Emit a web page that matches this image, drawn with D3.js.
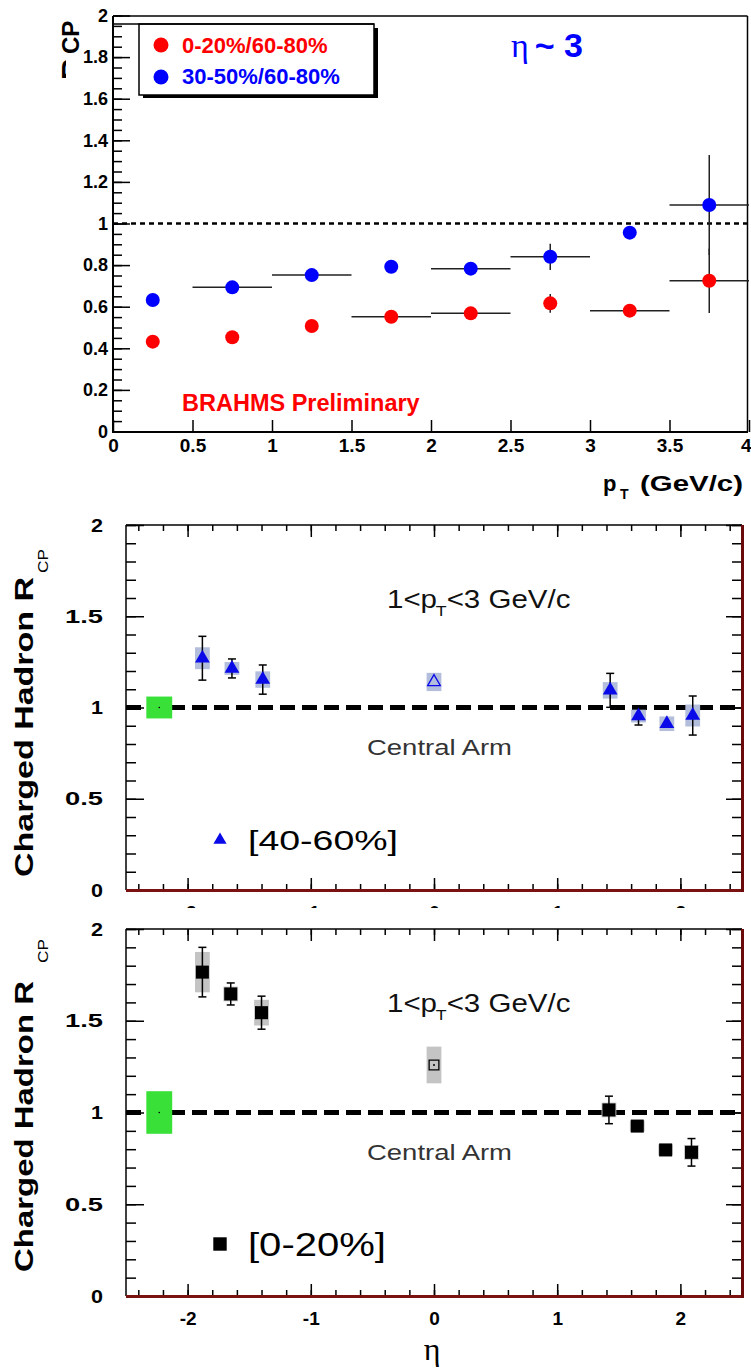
<!DOCTYPE html>
<html>
<head>
<meta charset="utf-8">
<script src="https://cdn.jsdelivr.net/npm/d3@7"></script>
<style>
  body { margin: 0; background: #fff; }
  svg { display: block; }
</style>
</head>
<body>
<svg id="chart" width="751" height="1368"></svg>
<script>
// ---- top panel: R_CP vs pT at eta ~ 3 ----
var ptCenters = [0.25, 0.75, 1.25, 1.75, 2.25, 2.75, 3.25, 3.75];
var rcpCentral = [0.432, 0.453, 0.507, 0.552, 0.568, 0.616, 0.581, 0.725];
var rcpCentralErr = [0, 0, 0, 0, 0, 0.045, 0, 0.155];
var rcpCentralBinErr = [0, 0, 0, 0.25, 0.25, 0, 0.25, 0.25];
var rcpSemi = [0.632, 0.693, 0.752, 0.792, 0.783, 0.840, 0.956, 1.089];
var rcpSemiErr = [0, 0, 0, 0, 0, 0.063, 0, 0.24];
var rcpSemiBinErr = [0, 0.25, 0.25, 0, 0.25, 0.25, 0, 0.25];
var legendTop = ['0-20%/60-80%', '30-50%/60-80%'];
var ptTicks = [0, 0.5, 1, 1.5, 2, 2.5, 3, 3.5, 4];

// ---- middle panel: [40-60%] vs eta ----
var eta40 = [-1.88, -1.64, -1.39, 1.43, 1.66, 1.89, 2.10];
var rcp40 = [1.27, 1.214, 1.153, 1.094, 0.953, 0.911, 0.956];
var rcp40Stat = [0.12, 0.052, 0.08, 0.093, 0.049, 0.02, 0.107];
var rcp40Sys = [0.06, 0.035, 0.045, 0.045, 0.035, 0.04, 0.06];
var rcp40Mid = [{ eta: 0, v: 1.14, sys: 0.05 }];

// ---- bottom panel: [0-20%] vs eta ----
var eta0 = [-1.88, -1.65, -1.40, 1.42, 1.65, 1.88, 2.09];
var rcp0 = [1.765, 1.646, 1.544, 1.014, 0.926, 0.796, 0.783];
var rcp0Stat = [0.135, 0.06, 0.09, 0.075, 0.03, 0.02, 0.075];
var rcp0Sys = [0.11, 0.04, 0.07, 0.04, 0.03, 0.03, 0.04];
var rcp0Mid = [{ eta: 0, v: 1.259, sys: 0.1 }];

// normalisation uncertainty boxes (green)
var normEta = -2.23, normHalfWidth = 0.105;
var norm40 = 0.06, norm0 = 0.116;

var etaMajor = [-2, -1, 0, 1, 2];
var rcpMajor = [0, 0.5, 1, 1.5, 2];

(function () {
  var sans = '"Liberation Sans", Arial, Helvetica, sans-serif';
  var serif = '"Liberation Serif", "Times New Roman", serif';
  var svg = d3.select('#chart');

  function clean(g) {
    g.select('.domain').remove();
    g.attr('font-family', null).attr('font-size', null);
    g.selectAll('line').attr('stroke', '#000').attr('stroke-width', 1.5);
  }

  function fmt(d) { return d3.format('~g')(+d.toFixed(2)); }

  // ================= TOP PANEL =================
  var xPt = d3.scaleLinear().domain([0, 4]).range([113, 749]);
  var yTop = d3.scaleLinear().domain([0, 2]).range([431.5, 15.5]);
  var topG = svg.append('g');

  topG.append('g').attr('transform', 'translate(113,0)')
    .call(d3.axisLeft(yTop).tickValues(d3.range(0, 2.001, 0.05)).tickSize(-9).tickFormat(''))
    .call(clean);
  topG.append('g').attr('transform', 'translate(113,0)')
    .call(d3.axisLeft(yTop).tickValues(d3.range(0, 2.001, 0.2)).tickSize(-17).tickPadding(5).tickFormat(fmt))
    .call(clean)
    .selectAll('text').attr('font-family', sans).attr('font-weight', 'bold').attr('font-size', 18).attr('fill', '#000');
  var xa = topG.append('g').attr('transform', 'translate(0,432)')
    .call(d3.axisBottom(xPt).tickValues(ptTicks).tickSize(-12).tickPadding(7).tickFormat(fmt))
    .call(clean);
  xa.selectAll('text').attr('font-family', sans).attr('font-weight', 'bold').attr('font-size', 19).attr('fill', '#000');
  // last label sits at the page edge
  xa.selectAll('text').filter(function (d) { return d === 4; }).attr('text-anchor', 'end').attr('dx', 2);

  // frame
  topG.append('line').attr('x1', 113).attr('x2', 747.5).attr('y1', 16).attr('y2', 16).attr('stroke', '#000').attr('stroke-width', 1.5);
  topG.append('line').attr('x1', 747.5).attr('x2', 747.5).attr('y1', 16).attr('y2', 432).attr('stroke', '#000').attr('stroke-width', 1.5);
  topG.append('line').attr('x1', 113).attr('x2', 113).attr('y1', 16).attr('y2', 433).attr('stroke', '#000').attr('stroke-width', 2);
  topG.append('line').attr('x1', 112).attr('x2', 748).attr('y1', 432).attr('y2', 432).attr('stroke', '#000').attr('stroke-width', 2);

  // reference line at 1
  topG.append('line')
    .attr('x1', 113).attr('x2', 747).attr('y1', yTop(1)).attr('y2', yTop(1))
    .attr('stroke', '#000').attr('stroke-width', 2.5).attr('stroke-dasharray', '5,4');

  function ptSeries(vals, err, binErr, color) {
    var g = topG.append('g');
    var pts = ptCenters.map(function (x, i) { return { x: x, v: vals[i], e: err[i], b: binErr[i] }; });
    g.selectAll('line.h').data(pts.filter(function (d) { return d.b > 0; })).enter().append('line')
      .attr('x1', function (d) { return xPt(d.x - d.b); })
      .attr('x2', function (d) { return xPt(d.x + d.b); })
      .attr('y1', function (d) { return yTop(d.v); })
      .attr('y2', function (d) { return yTop(d.v); })
      .attr('stroke', '#222').attr('stroke-width', 1.5);
    g.selectAll('line.v').data(pts.filter(function (d) { return d.e > 0; })).enter().append('line')
      .attr('x1', function (d) { return xPt(d.x); })
      .attr('x2', function (d) { return xPt(d.x); })
      .attr('y1', function (d) { return yTop(d.v - d.e); })
      .attr('y2', function (d) { return yTop(d.v + d.e); })
      .attr('stroke', '#222').attr('stroke-width', 1.5);
    g.selectAll('circle').data(pts).enter().append('circle')
      .attr('cx', function (d) { return xPt(d.x); })
      .attr('cy', function (d) { return yTop(d.v); })
      .attr('r', 7).attr('fill', color);
  }
  ptSeries(rcpCentral, rcpCentralErr, rcpCentralBinErr, '#ff0000');
  ptSeries(rcpSemi, rcpSemiErr, rcpSemiBinErr, '#0000ff');

  // legend box with shadow
  topG.append('rect').attr('x', 143).attr('y', 28).attr('width', 235).attr('height', 70).attr('fill', '#000');
  topG.append('rect').attr('x', 139).attr('y', 24).attr('width', 235).attr('height', 71)
    .attr('fill', '#fff').attr('stroke', '#000').attr('stroke-width', 1.5);
  topG.append('line').attr('x1', 113).attr('x2', 374).attr('y1', 24).attr('y2', 24).attr('stroke', '#000').attr('stroke-width', 1.5);
  var legColors = ['#ff0000', '#0000ff'];
  legendTop.forEach(function (t, i) {
    topG.append('circle').attr('cx', 161).attr('cy', 45 + i * 32).attr('r', 7.5).attr('fill', legColors[i]);
    topG.append('text').attr('x', 182).attr('y', 53 + i * 31).text(t)
      .attr('font-family', sans).attr('font-weight', 'bold').attr('font-size', 22).attr('fill', legColors[i]);
  });

  // eta ~ 3
  var etaLbl = topG.append('text').attr('x', 511).attr('y', 57).attr('fill', '#0000ff');
  etaLbl.append('tspan').attr('font-family', serif).attr('font-size', 34).text('η');
  etaLbl.append('tspan').attr('font-family', sans).attr('font-weight', 'bold').attr('font-size', 34).attr('dx', 6).text('~ 3');

  topG.append('text').attr('x', 182).attr('y', 411).text('BRAHMS Preliminary')
    .attr('font-family', sans).attr('font-weight', 'bold').attr('font-size', 23.5).attr('fill', '#ff0000');

  // clipped y title of the top panel
  svg.append('clipPath').attr('id', 'rclip').append('rect').attr('x', 50).attr('y', 0).attr('width', 16).attr('height', 120);
  topG.append('text').attr('transform', 'translate(79,54) rotate(-90)').text('CP')
    .attr('font-family', sans).attr('font-weight', 'bold').attr('font-size', 24).attr('fill', '#000');
  topG.append('g').attr('clip-path', 'url(#rclip)')
    .append('text').attr('transform', 'translate(82,80) rotate(-90)').text('R')
    .attr('font-family', sans).attr('font-weight', 'bold').attr('font-size', 30).attr('fill', '#000');

  // x title
  topG.append('text').attr('x', 603).attr('y', 491).text('p')
    .attr('font-family', sans).attr('font-weight', 'bold').attr('font-size', 22).attr('fill', '#000');
  topG.append('text').attr('x', 620).attr('y', 499).text('T')
    .attr('font-family', sans).attr('font-weight', 'bold').attr('font-size', 14).attr('fill', '#000');
  topG.append('text').attr('x', 640).attr('y', 491).text('(GeV/c)')
    .attr('textLength', 103).attr('lengthAdjust', 'spacingAndGlyphs')
    .attr('font-family', sans).attr('font-weight', 'bold').attr('font-size', 22).attr('fill', '#000');

  // ================= ETA PANELS =================
  var xEta = d3.scaleLinear().domain([-2.5, 2.5]).range([126, 742]);
  svg.append('clipPath').attr('id', 'midclip').append('rect').attr('x', 0).attr('y', 0).attr('width', 751).attr('height', 908);

  function etaPanel(p) {
    var y = d3.scaleLinear().domain([0, 2]).range([p.y0, p.y2]);
    var g = svg.append('g');
    var xl = xEta.range()[0], xr = xEta.range()[1];

    // left axis
    g.append('g').attr('transform', 'translate(' + xl + ',0)')
      .call(d3.axisLeft(y).tickValues(d3.range(0, 2.001, 0.1)).tickSize(-10).tickFormat('')).call(clean);
    var la = g.append('g').attr('transform', 'translate(' + xl + ',0)')
      .call(d3.axisLeft(y).tickValues(rcpMajor).tickSize(-18).tickPadding(23).tickFormat(fmt)).call(clean);
    la.selectAll('text').attr('font-family', sans).attr('font-weight', 'bold').attr('font-size', 19).attr('fill', '#000')
      .attr('textLength', function (d) { return fmt(d).length > 1 ? 38 : 12; })
      .attr('lengthAdjust', 'spacingAndGlyphs');
    // right axis
    g.append('g').attr('transform', 'translate(' + xr + ',0)')
      .call(d3.axisRight(y).tickValues(d3.range(0, 2.001, 0.1)).tickSize(-10).tickFormat('')).call(clean);
    g.append('g').attr('transform', 'translate(' + xr + ',0)')
      .call(d3.axisRight(y).tickValues(rcpMajor).tickSize(-16).tickFormat('')).call(clean);
    // top axis
    g.append('g').attr('transform', 'translate(0,' + p.y2 + ')')
      .call(d3.axisTop(xEta).tickValues(d3.range(-2.4, 2.41, 0.2)).tickSize(-6).tickFormat('')).call(clean);
    g.append('g').attr('transform', 'translate(0,' + p.y2 + ')')
      .call(d3.axisTop(xEta).tickValues(etaMajor).tickSize(-12).tickFormat('')).call(clean);
    // bottom axis
    g.append('g').attr('transform', 'translate(0,' + p.y0 + ')')
      .call(d3.axisBottom(xEta).tickValues(d3.range(-2.4, 2.41, 0.2)).tickSize(-6).tickFormat('')).call(clean);
    var holder = g.append('g');
    if (p.clipLabels) holder.attr('clip-path', 'url(#midclip)');
    var ba = holder.append('g').attr('transform', 'translate(0,' + p.y0 + ')')
      .call(d3.axisBottom(xEta).tickValues(etaMajor).tickSize(-12).tickPadding(16).tickFormat(function (d) { return String(d); }))
      .call(clean);
    ba.selectAll('text').attr('font-family', sans).attr('font-weight', 'bold').attr('font-size', 19).attr('fill', '#000');

    // frame
    g.append('line').attr('x1', xl).attr('x2', xr).attr('y1', p.y2).attr('y2', p.y2).attr('stroke', '#000').attr('stroke-width', 1.5);
    g.append('line').attr('x1', xl).attr('x2', xl).attr('y1', p.y2).attr('y2', p.y0).attr('stroke', '#000').attr('stroke-width', 1.5);
    g.append('line').attr('x1', xl).attr('x2', xr + 1.5).attr('y1', p.y0 + 0.5).attr('y2', p.y0 + 0.5).attr('stroke', '#7a1212').attr('stroke-width', 3);
    g.append('line').attr('x1', xr + 0.5).attr('x2', xr + 0.5).attr('y1', p.y2).attr('y2', p.y0 + 2).attr('stroke', '#6b0a0a').attr('stroke-width', 3);

    // dashed unity line
    g.append('line').attr('x1', xl).attr('x2', xr).attr('y1', y(1)).attr('y2', y(1))
      .attr('stroke', '#000').attr('stroke-width', 5).attr('stroke-dasharray', '15,7');

    // normalisation box
    g.append('rect')
      .attr('x', xEta(normEta - normHalfWidth)).attr('width', xEta(normEta + normHalfWidth) - xEta(normEta - normHalfWidth))
      .attr('y', y(1 + p.norm)).attr('height', y(1 - p.norm) - y(1 + p.norm))
      .attr('fill', '#38e038');
    g.append('circle').attr('cx', xEta(normEta)).attr('cy', y(1)).attr('r', 0.8).attr('fill', '#000');

    var pts = p.eta.map(function (e, i) { return { eta: e, v: p.vals[i], stat: p.stat[i], sys: p.sys[i] }; });

    // systematic boxes
    g.selectAll('rect.sys').data(pts.concat(p.mid)).enter().append('rect')
      .attr('x', function (d) { return xEta(d.eta - 0.06); })
      .attr('width', function (d) { return xEta(d.eta + 0.06) - xEta(d.eta - 0.06); })
      .attr('y', function (d) { return y(d.v + d.sys); })
      .attr('height', function (d) { return y(d.v - d.sys) - y(d.v + d.sys); })
      .attr('fill', p.sysColor);

    // stat error bars with caps
    var eb = g.selectAll('g.err').data(pts.filter(function (d) { return d.stat > 0.03; })).enter().append('g');
    eb.append('line')
      .attr('x1', function (d) { return xEta(d.eta); }).attr('x2', function (d) { return xEta(d.eta); })
      .attr('y1', function (d) { return y(d.v + d.stat); }).attr('y2', function (d) { return y(d.v - d.stat); })
      .attr('stroke', '#000').attr('stroke-width', 1.5);
    [1, -1].forEach(function (s) {
      eb.append('line')
        .attr('x1', function (d) { return xEta(d.eta) - 4; }).attr('x2', function (d) { return xEta(d.eta) + 4; })
        .attr('y1', function (d) { return y(d.v + s * d.stat); }).attr('y2', function (d) { return y(d.v + s * d.stat); })
        .attr('stroke', '#000').attr('stroke-width', 1.5);
    });

    // markers
    g.selectAll('path.mk').data(pts).enter().append('path')
      .attr('transform', function (d) { return 'translate(' + xEta(d.eta) + ',' + y(d.v) + ')'; })
      .attr('d', d3.symbol().type(p.symbol).size(p.symbolSize))
      .attr('fill', p.color);
    g.selectAll('path.open').data(p.mid).enter().append('path')
      .attr('transform', function (d) { return 'translate(' + xEta(d.eta) + ',' + y(d.v) + ')'; })
      .attr('d', d3.symbol().type(p.symbol).size(p.openSize))
      .attr('fill', 'none').attr('stroke', p.color).attr('stroke-width', 1.3);
    if (p.symbol === d3.symbolSquare) {
      g.selectAll('circle.dot').data(p.mid).enter().append('circle')
        .attr('cx', function (d) { return xEta(d.eta); }).attr('cy', function (d) { return y(d.v); })
        .attr('r', 1).attr('fill', '#000');
    }

    // annotations (glyphs of the original are wide, so stretch horizontally)
    var pt = g.append('text').attr('transform', 'translate(387,' + p.ptY + ') scale(1.18,1)').attr('fill', '#111')
      .attr('font-family', sans).attr('font-size', 25).attr('font-weight', p.ptWeight);
    pt.append('tspan').text('1<p');
    pt.append('tspan').attr('font-size', 15).attr('dy', 8).attr('dx', -1).text('T');
    pt.append('tspan').attr('dy', -8).text('<3 GeV/c');

    g.append('text').attr('x', 367).attr('y', p.armY).text('Central Arm')
      .attr('textLength', 145).attr('lengthAdjust', 'spacingAndGlyphs')
      .attr('font-family', sans).attr('font-size', 22).attr('fill', '#333');

    g.append('path').attr('transform', 'translate(220,' + p.legY + ')')
      .attr('d', d3.symbol().type(p.symbol).size(p.legSize)).attr('fill', p.color);
    g.append('text').attr('x', 248).attr('y', p.legY + p.legFont * 0.36).text(p.legText)
      .attr('textLength', p.legLen).attr('lengthAdjust', 'spacingAndGlyphs')
      .attr('font-family', sans).attr('font-size', p.legFont).attr('fill', '#000');

    // y title
    g.append('text').attr('transform', 'translate(33,' + p.titleStart + ') rotate(-90)').text('Charged Hadron R')
      .attr('textLength', p.titleLen).attr('lengthAdjust', 'spacingAndGlyphs')
      .attr('font-family', sans).attr('font-weight', 'bold').attr('font-size', 25).attr('fill', '#000');
    g.append('text').attr('transform', 'translate(48,' + (p.titleStart - p.titleLen - p.subGap) + ') rotate(-90)').text('CP')
      .attr('textLength', 24).attr('lengthAdjust', 'spacingAndGlyphs')
      .attr('font-family', sans).attr('font-size', 14).attr('fill', '#000');
  }

  etaPanel({
    y0: 890, y2: 525, norm: norm40, eta: eta40, vals: rcp40, stat: rcp40Stat, sys: rcp40Sys, mid: rcp40Mid,
    symbol: d3.symbolTriangle, symbolSize: 95, openSize: 70, color: '#0a0ae8', sysColor: '#b3bedd',
    ptY: 608, ptWeight: 'normal', armY: 755, legY: 840, legText: '[40-60%]', legFont: 27, legLen: 150, legSize: 75,
    titleStart: 877, titleLen: 300, subGap: 4, clipLabels: true
  });

  etaPanel({
    y0: 1296, y2: 929, norm: norm0, eta: eta0, vals: rcp0, stat: rcp0Stat, sys: rcp0Sys, mid: rcp0Mid,
    symbol: d3.symbolSquare, symbolSize: 170, openSize: 95, color: '#000', sysColor: '#c4c4c4',
    ptY: 1012, ptWeight: 'normal', armY: 1160, legY: 1244, legText: '[0-20%]', legFont: 34, legLen: 138, legSize: 180,
    titleStart: 1272, titleLen: 291, subGap: 18, clipLabels: false
  });

  svg.append('text').attr('x', 432).attr('y', 1360).attr('text-anchor', 'middle').text('η')
    .attr('font-family', serif).attr('font-size', 32).attr('fill', '#000');
})();
</script>
</body>
</html>
